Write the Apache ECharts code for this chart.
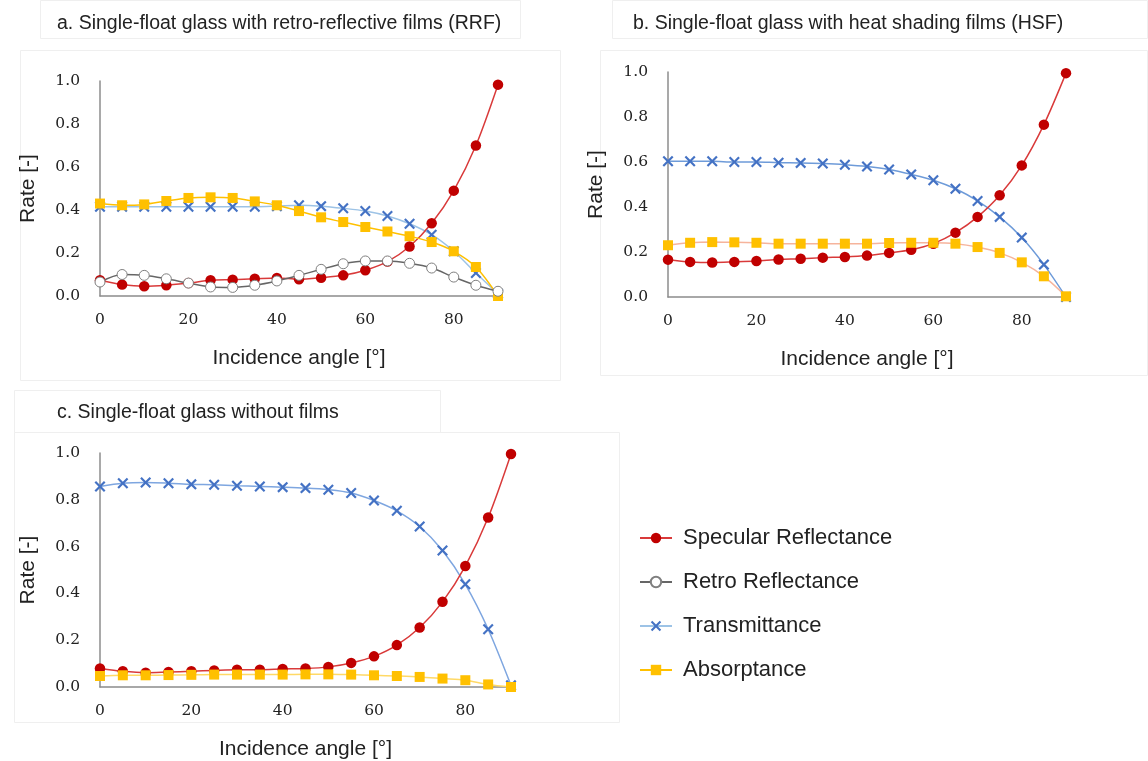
<!DOCTYPE html>
<html>
<head>
<meta charset="utf-8">
<script src="https://cdn.jsdelivr.net/npm/echarts@6/dist/echarts.min.js"></script>
<style>
  html, body { margin: 0; padding: 0; background: #fff; }
  #chart { width: 1148px; height: 761px; }
</style>
</head>
<body>
<div id="chart"></div>
<script>
// Incidence angles [deg]
const angles = [0, 5, 10, 15, 20, 25, 30, 35, 40, 45, 50, 55, 60, 65, 70, 75, 80, 85, 90];
const yTicks = [0, 0.2, 0.4, 0.6, 0.8, 1.0];

// a. Single-float glass with retro-reflective films (RRF)
const specA  = [0.073, 0.053, 0.045, 0.050, 0.060, 0.073, 0.076, 0.080, 0.084, 0.078, 0.085, 0.096, 0.120, 0.160, 0.230, 0.338, 0.490, 0.700, 0.983];
const retroA = [0.065, 0.100, 0.096, 0.080, 0.060, 0.042, 0.040, 0.050, 0.070, 0.096, 0.124, 0.150, 0.163, 0.163, 0.152, 0.130, 0.088, 0.050, 0.022];
const transA = [0.415, 0.415, 0.415, 0.415, 0.415, 0.415, 0.415, 0.415, 0.418, 0.422, 0.418, 0.408, 0.395, 0.372, 0.336, 0.285, 0.208, 0.107, 0.010];
const absA   = [0.430, 0.422, 0.426, 0.442, 0.456, 0.459, 0.456, 0.440, 0.422, 0.395, 0.366, 0.344, 0.321, 0.300, 0.278, 0.251, 0.208, 0.135, 0.000];

// b. Single-float glass with heat shading films (HSF)
const specB  = [0.166, 0.156, 0.153, 0.156, 0.160, 0.167, 0.170, 0.175, 0.178, 0.184, 0.196, 0.210, 0.237, 0.286, 0.356, 0.452, 0.585, 0.766, 0.995];
const transB = [0.603, 0.603, 0.603, 0.600, 0.600, 0.597, 0.596, 0.593, 0.588, 0.580, 0.567, 0.545, 0.519, 0.481, 0.427, 0.356, 0.264, 0.144, 0.000];
const absB   = [0.230, 0.241, 0.244, 0.243, 0.241, 0.237, 0.237, 0.237, 0.237, 0.237, 0.240, 0.241, 0.241, 0.237, 0.222, 0.196, 0.154, 0.092, 0.003];

// c. Single-float glass without films
const specC  = [0.079, 0.067, 0.061, 0.064, 0.067, 0.071, 0.074, 0.074, 0.077, 0.079, 0.086, 0.103, 0.131, 0.179, 0.254, 0.364, 0.517, 0.724, 0.996];
const transC = [0.857, 0.871, 0.874, 0.871, 0.866, 0.864, 0.860, 0.857, 0.854, 0.850, 0.843, 0.829, 0.797, 0.753, 0.686, 0.583, 0.439, 0.247, 0.007];
const absC   = [0.047, 0.050, 0.050, 0.051, 0.052, 0.053, 0.053, 0.053, 0.053, 0.054, 0.054, 0.053, 0.050, 0.047, 0.043, 0.036, 0.029, 0.011, 0.000];

const seriesNames = ['Specular Reflectance', 'Retro Reflectance', 'Transmittance', 'Absorptance'];
const panelTitles = [
  'a. Single-float glass with retro-reflective films (RRF)',
  'b. Single-float glass with heat shading films (HSF)',
  'c. Single-float glass without films'
];

const SANS = 'Liberation Sans, Arial, sans-serif';
const SERIF = 'DejaVu Serif, Liberation Serif, serif';
const CROSS = 'path://M1.4,0 L5,3.6 L8.6,0 L10,1.4 L6.4,5 L10,8.6 L8.6,10 L5,6.4 L1.4,10 L0,8.6 L3.6,5 L0,1.4 Z';

const pairs = ys => angles.map((a, i) => [a, ys[i]]);

function specSeries(idx, ys) {
  return {
    name: seriesNames[0], type: 'line', xAxisIndex: idx, yAxisIndex: idx, data: pairs(ys),
    smooth: 0.3, symbol: 'circle', symbolSize: 10.5,
    itemStyle: { color: '#C00000' }, lineStyle: { color: '#D93A3A', width: 1.5 }
  };
}
function retroSeries(idx, ys) {
  return {
    name: seriesNames[1], type: 'line', xAxisIndex: idx, yAxisIndex: idx, data: pairs(ys),
    smooth: 0.3, symbol: 'circle', symbolSize: 10,
    itemStyle: { color: '#ffffff', borderColor: '#7F7F7F', borderWidth: 1 },
    lineStyle: { color: '#666666', width: 1.5 }
  };
}
function transSeries(idx, ys, lineColor) {
  return {
    name: seriesNames[2], type: 'line', xAxisIndex: idx, yAxisIndex: idx, data: pairs(ys),
    smooth: 0.3, symbol: CROSS, symbolSize: 11,
    itemStyle: { color: '#4472C4' }, lineStyle: { color: lineColor, width: 1.5 }
  };
}
function absSeries(idx, ys, lineColor) {
  return {
    name: seriesNames[3], type: 'line', xAxisIndex: idx, yAxisIndex: idx, data: pairs(ys),
    smooth: 0.3, symbol: 'rect', symbolSize: 10,
    itemStyle: { color: '#FFC000' }, lineStyle: { color: lineColor, width: 1.5 }
  };
}

const grids = [
  { left: 100, top: 81, width: 398, height: 215 },
  { left: 668, top: 72, width: 398, height: 225 },
  { left: 100, top: 453, width: 411, height: 234 }
];

const axisLineStyle = { show: true, lineStyle: { color: '#8C8C8C', width: 1.5 } };

const xAxes = grids.map((g, i) => ({
  type: 'value', gridIndex: i, min: 0, max: 90, interval: 20,
  name: 'Incidence angle [°]', nameLocation: 'middle', nameGap: 52,
  nameTextStyle: { fontFamily: SANS, fontSize: 21, color: '#222' },
  axisLine: axisLineStyle, axisTick: { show: false }, splitLine: { show: false },
  axisLabel: { showMaxLabel: false, margin: 16, fontFamily: SERIF, fontSize: 15.5, color: '#222' }
}));

const yAxes = grids.map((g, i) => ({
  type: 'value', gridIndex: i, min: yTicks[0], max: yTicks[yTicks.length - 1], interval: 0.2,
  name: 'Rate [-]', nameLocation: 'middle', nameGap: 61, nameRotate: 90,
  nameTextStyle: { fontFamily: SANS, fontSize: 21, color: '#222' },
  axisLine: axisLineStyle, axisTick: { show: false }, splitLine: { show: false },
  axisLabel: { margin: 20, fontFamily: SERIF, fontSize: 15.5, color: '#222', formatter: v => v.toFixed(1) }
}));

const titleBox = { stroke: '#EFEFEF', fill: 'rgba(0,0,0,0)', lineWidth: 1 };
const titleText = { fontFamily: SANS, fontSize: 19.5, fontWeight: 'normal', color: '#222' };

const option = {
  backgroundColor: '#ffffff',
  animation: false,
  title: [
    { text: panelTitles[0], left: 52, top: 9, textStyle: titleText },
    { text: panelTitles[1], left: 628, top: 9, textStyle: titleText },
    { text: panelTitles[2], left: 52, top: 398, textStyle: titleText }
  ],
  graphic: [
    { type: 'rect', shape: { x: 40.5, y: 0.5, width: 480, height: 38 }, style: titleBox, silent: true },
    { type: 'rect', shape: { x: 612.5, y: 0.5, width: 535, height: 38 }, style: titleBox, silent: true },
    { type: 'rect', shape: { x: 14.5, y: 390.5, width: 426, height: 42 }, style: titleBox, silent: true },
    { type: 'rect', shape: { x: 20.5, y: 50.5, width: 540, height: 330 }, style: titleBox, silent: true },
    { type: 'rect', shape: { x: 600.5, y: 50.5, width: 547, height: 325 }, style: titleBox, silent: true },
    { type: 'rect', shape: { x: 14.5, y: 432.5, width: 605, height: 290 }, style: titleBox, silent: true }
  ],
  legend: {
    data: seriesNames,
    orient: 'vertical', left: 634, top: 522,
    itemWidth: 32, itemHeight: 13, itemGap: 22,
    textStyle: { fontFamily: SANS, fontSize: 22, color: '#222', padding: [0, 0, 0, 6] }
  },
  grid: grids,
  xAxis: xAxes,
  yAxis: yAxes,
  series: [
    transSeries(0, transA, '#9DC3E6'),
    specSeries(0, specA),
    absSeries(0, absA, '#FFC000'),
    retroSeries(0, retroA),

    transSeries(1, transB, '#6E9BD9'),
    specSeries(1, specB),
    absSeries(1, absB, '#F6B49C'),

    transSeries(2, transC, '#7EA6E0'),
    specSeries(2, specC),
    absSeries(2, absC, '#FFD966')
  ]
};

const chart = echarts.init(document.getElementById('chart'), null, { renderer: 'canvas' });
chart.setOption(option);
</script>
</body>
</html>
